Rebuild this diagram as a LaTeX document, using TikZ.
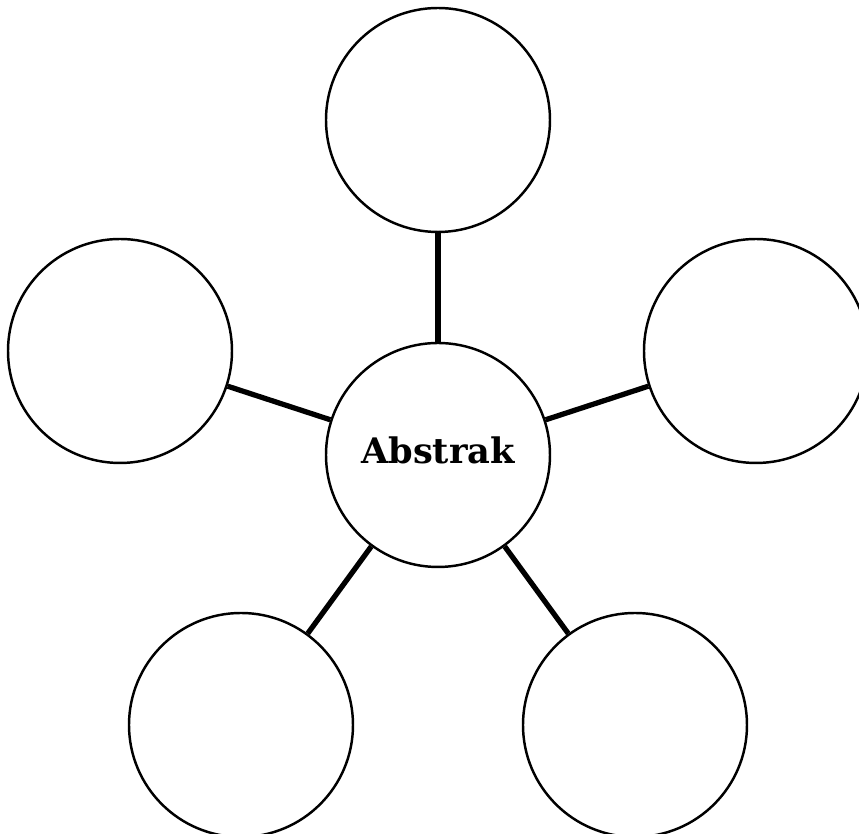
\documentclass[tikz,border=0pt]{standalone}
\usepackage{fontspec}
\newfontfamily\labelfont{DejaVu Serif}
\begin{document}
\begin{tikzpicture}[x=0.01cm,y=-0.01cm,
  bubble/.style={circle,draw=black,line width=0.7pt,minimum size=224*0.01cm,inner sep=0pt,fill=white},
  link/.style={draw=black,line width=1.5pt}]
\useasboundingbox (0,0) rectangle (859,834);
\node[bubble] (c) at (438,455) {};
\node[bubble] (t) at (438,120) {};
\node[bubble] (l) at (120,351) {};
\node[bubble] (r) at (756,351) {};
\node[bubble] (bl) at (241,725) {};
\node[bubble] (br) at (635,725) {};
\draw[link] (c) -- (t);
\draw[link] (c) -- (l);
\draw[link] (c) -- (r);
\draw[link] (c) -- (bl);
\draw[link] (c) -- (br);
\node[font=\labelfont\bfseries\fontsize{10pt}{12pt}\selectfont] (lab) at (438,450) {Abstrak};
\end{tikzpicture}
\end{document}
